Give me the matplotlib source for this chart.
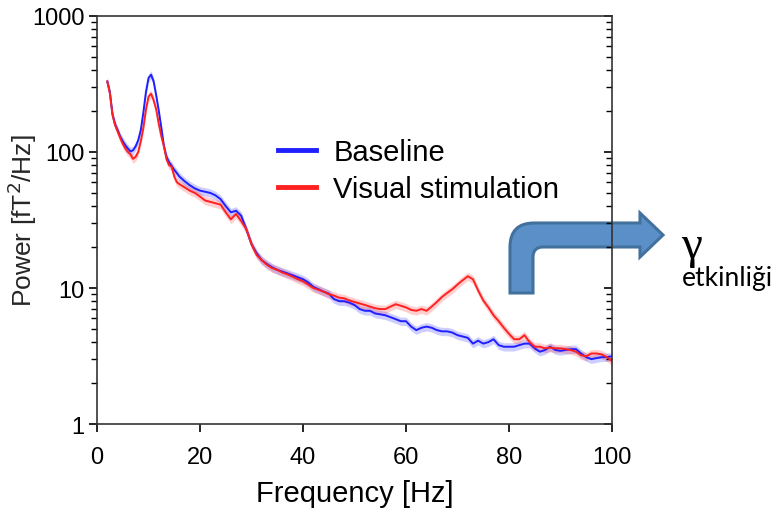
import numpy as np
import matplotlib
matplotlib.use("Agg")
import matplotlib.pyplot as plt
from matplotlib.path import Path
from matplotlib.patches import PathPatch
from matplotlib.ticker import LogLocator, NullFormatter, FixedLocator

plt.rcParams['font.family'] = ['Liberation Sans', 'DejaVu Sans']

# frekans ekseni: 2-16 Hz arası 0.5 Hz, sonrası 1 Hz adımlı
freq = np.concatenate([np.arange(2, 16.5, 0.5), np.arange(17, 101, 1)])

baseline = [
    330, 275, 190, 160, 145, 130, 120, 112, 106, 101,
    103, 110, 122, 145, 195, 275, 350, 370, 330, 260,
    200, 150, 110, 92, 84, 79, 74, 70, 66,
    61, 57, 54, 52, 51, 50, 48, 45, 40, 36,
    37, 34, 27, 21, 18, 16, 15, 14.2, 13.6, 13.2,
    12.8, 12.4, 12.0, 11.6, 11.0, 10.2, 9.8, 9.4, 9.1, 8.3,
    8.0, 8.0, 7.8, 7.5, 7.0, 6.8, 6.8, 6.5, 6.4, 6.3,
    6.1, 5.9, 5.7, 5.7, 5.2, 4.9, 5.1, 5.2, 5.1, 4.9,
    4.8, 4.8, 4.7, 4.5, 4.4, 4.3, 3.9, 4.1, 3.9, 4.0,
    4.2, 3.8, 3.7, 3.7, 3.7, 3.8, 3.9, 3.9, 3.6, 3.4,
    3.5, 3.7, 3.5, 3.45, 3.5, 3.55, 3.55, 3.3, 3.1, 3.0,
    3.05, 3.1, 3.1, 3.15,
]

visual = [
    330, 270, 188, 158, 142, 127, 115, 106, 100, 96,
    89, 92, 100, 120, 150, 205, 255, 268, 240, 205,
    160, 130, 110, 88, 80, 78, 66, 60, 58,
    55, 52, 50, 47, 44, 43, 42, 41, 36, 32,
    35, 31, 27, 21, 17.5, 16, 14.8, 14.0, 13.6, 13.0,
    12.6, 12.1, 11.6, 11.2, 10.6, 10.0, 9.7, 9.4, 9.0, 8.8,
    8.5, 8.4, 8.1, 7.9, 7.7, 7.5, 7.3, 7.1, 7.0, 7.0,
    7.3, 7.6, 7.4, 7.2, 6.9, 6.8, 7.0, 6.8, 7.3, 7.9,
    8.6, 9.2, 9.8, 10.6, 11.4, 12.2, 11.6, 9.6, 8.1, 7.2,
    6.3, 5.7, 5.1, 4.6, 4.2, 4.2, 4.5, 4.0, 3.7, 3.7,
    3.6, 3.65, 3.6, 3.6, 3.55, 3.5, 3.4, 3.2, 3.15, 3.3,
    3.3, 3.25, 3.1, 2.9,
]

labels = ['Baseline', 'Visual stimulation']
colors = ['#1f1fff', '#ff2020']

W, H = 784, 510
fig = plt.figure(figsize=(W / 100, H / 100), dpi=100)
ax = fig.add_axes([97/W, 1 - 425/H, (612 - 97)/W, (425 - 17)/H])
ax.set_facecolor('none')

for vals, lab, col in zip([baseline, visual], labels, colors):
    v = np.array(vals)
    # hata bandı
    ax.fill_between(freq, v * 0.93, v * 1.07, color=col, alpha=0.22, lw=0)
    ax.plot(freq, v, color=col, lw=1.4, label=lab)

ax.set_yscale('log')
ax.set_xlim(0, 100)
ax.set_ylim(1, 1000)

ax.xaxis.set_major_locator(FixedLocator([0, 20, 40, 60, 80, 100]))
ax.yaxis.set_major_locator(FixedLocator([1, 10, 100, 1000]))
ax.yaxis.set_major_formatter(matplotlib.ticker.FuncFormatter(lambda v, p: '%d' % v))
ax.yaxis.set_minor_locator(LogLocator(base=10, subs=np.arange(2, 10)))
ax.yaxis.set_minor_formatter(NullFormatter())

ax.tick_params(axis='x', direction='out', length=6, width=1.2, labelsize=17, pad=10)
ax.tick_params(axis='y', which='major', direction='out', length=6, width=1.2,
               labelsize=17, right=True, pad=3)
ax.tick_params(axis='y', which='minor', direction='out', length=4, width=1.0, right=True)
for t in ax.yaxis.get_major_ticks() + ax.yaxis.get_minor_ticks():
    t.tick2line.set_marker(matplotlib.lines.TICKLEFT)

for s in ax.spines.values():
    s.set_color('#333333')
    s.set_linewidth(1.2)

ax.set_xlabel('Frequency [Hz]', fontsize=21, labelpad=8)
fig.text(22/W, 1 - 221/H, 'Power [fT$^2$/Hz]',
         rotation=90, ha='center', va='center', fontsize=19, color='#262626')

leg = ax.legend(loc='upper left', bbox_to_anchor=(278/W, 1 - 139/H),
                bbox_transform=fig.transFigure, frameon=False, fontsize=21,
                handlelength=1.3, handletextpad=0.6, labelspacing=0.3,
                borderpad=0, borderaxespad=0)
for h in leg.legend_handles:
    h.set_linewidth(3.5)

# bükülmüş ok (piksel koordinatlarında tanımlanıp şekil oranına çevrilir)
pts = [
    (510, 294), (510, 248), (510, 224), (534, 224),
    (640, 224), (640, 214), (663, 236), (640, 258), (640, 248),
    (543, 248), (533, 248), (533, 258), (533, 294), (510, 294),
]
codes = [Path.MOVETO, Path.LINETO, Path.CURVE3, Path.CURVE3,
         Path.LINETO, Path.LINETO, Path.LINETO, Path.LINETO, Path.LINETO,
         Path.LINETO, Path.CURVE3, Path.CURVE3, Path.LINETO, Path.CLOSEPOLY]
verts = [(x / W, 1 - y / H) for x, y in pts]
arrow = PathPatch(Path(verts, codes), transform=fig.transFigure,
                  facecolor='#5b8fc8', edgecolor='#41719c', lw=2.2, zorder=-1)
fig.patches.append(arrow)

fig.text(681/W, 1 - 258/H, 'γ', fontsize=34, ha='left', va='baseline',
         family=['Liberation Serif', 'DejaVu Serif'])
fig.text(682/W, 1 - 286/H, 'etkinliği', fontsize=19, ha='left', va='baseline',
         family=['Lato', 'DejaVu Sans'])

fig.savefig('out.png', dpi=100)
